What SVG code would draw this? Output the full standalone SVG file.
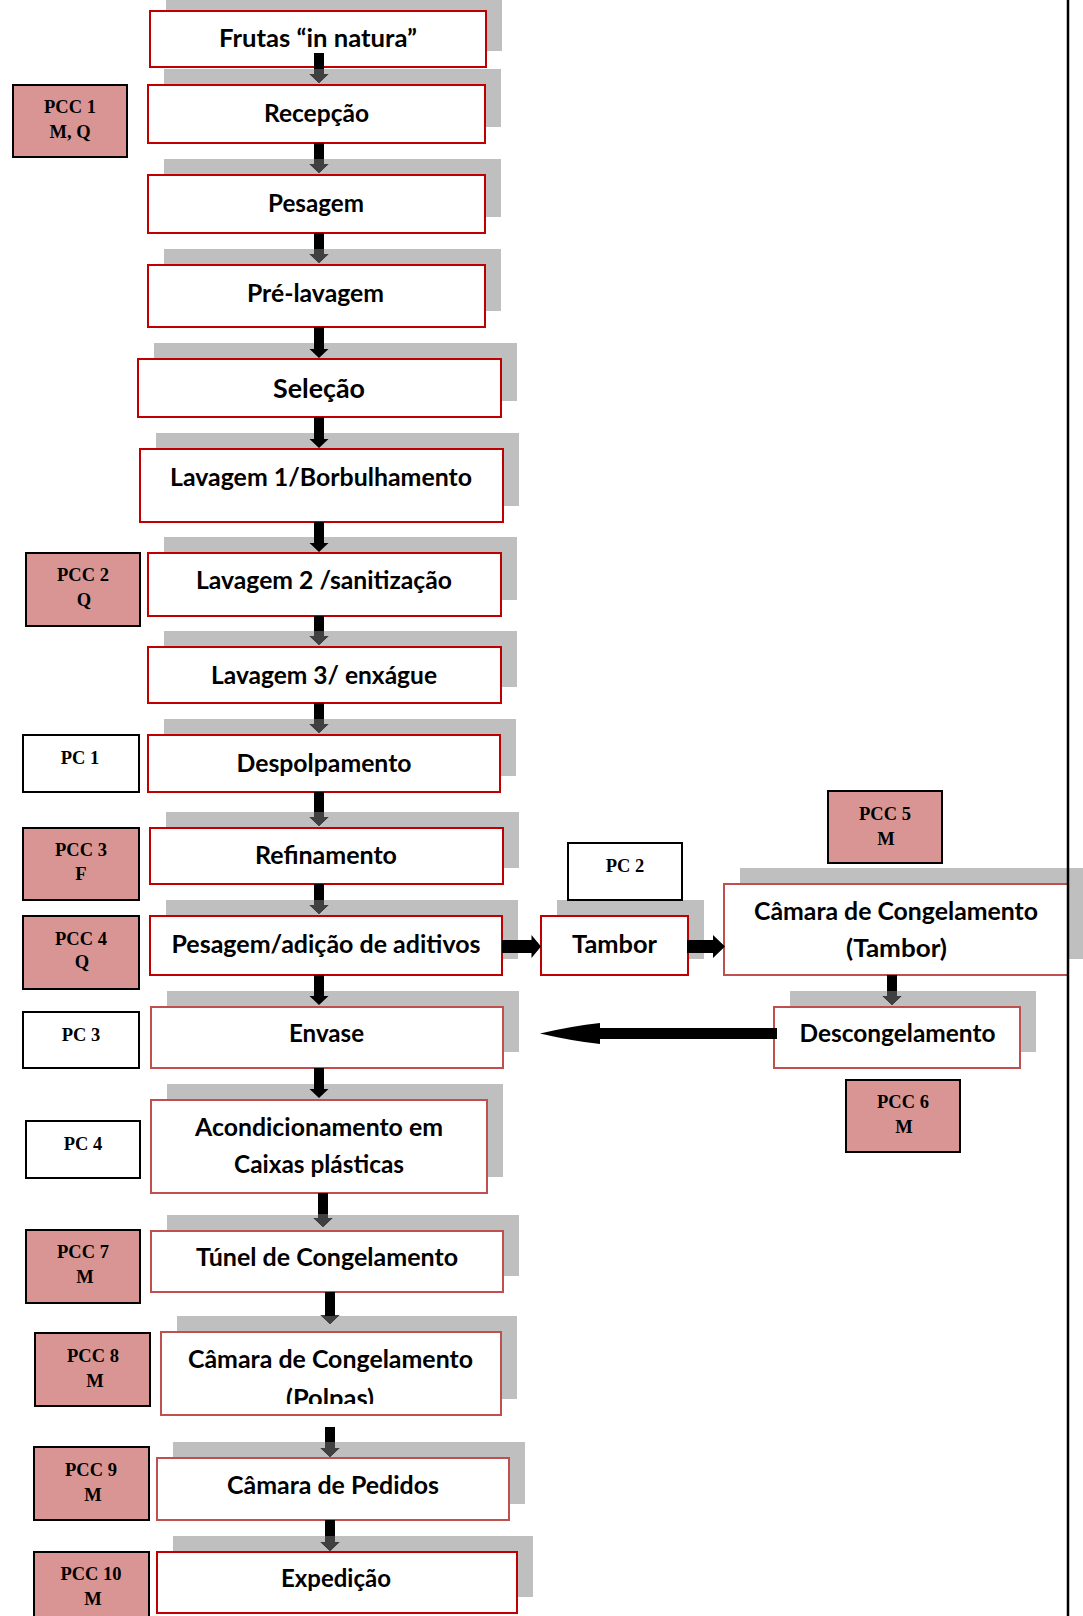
<svg xmlns="http://www.w3.org/2000/svg" width="1083" height="1616" viewBox="0 0 1083 1616">
<defs>
<style>
.sh{fill:#bfbfbf}
.bx{fill:#fff;stroke:#c00000;stroke-width:2}
.bl{fill:#fff;stroke:#c0504d;stroke-width:2}
.pcc{fill:#d99594;stroke:#000;stroke-width:2}
.pc{fill:#fff;stroke:#000;stroke-width:2}
.t{font-family:Lato,"Open Sans","DejaVu Sans",sans-serif;font-weight:bold;font-size:24px;fill:#000;text-anchor:middle}
.p{font-family:"Liberation Serif","Times New Roman",serif;font-weight:bold;font-size:18.5px;fill:#000;text-anchor:middle}
.a{fill:#000}
.g{fill:#404040}
</style>
<clipPath id="clipPolpas"><rect x="161" y="1332" width="340" height="72"/></clipPath>
</defs>
<rect width="1083" height="1616" fill="#fff"/>

<!-- main process nodes -->
<g id="n-frutas"><rect class="sh" x="166" y="-5" width="336" height="56"/><rect class="bx" x="150" y="11" width="336" height="56"/><text class="t" x="318" y="47" textLength="198" lengthAdjust="spacingAndGlyphs">Frutas “in natura”</text></g>
<g id="n-recepcao"><rect class="sh" x="164" y="69" width="337" height="58"/><rect class="bx" x="148" y="85" width="337" height="58"/><text class="t" x="316.5" y="121.5" textLength="105" lengthAdjust="spacingAndGlyphs">Recepção</text></g>
<g id="n-pesagem"><rect class="sh" x="164" y="159" width="337" height="58"/><rect class="bx" x="148" y="175" width="337" height="58"/><text class="t" x="316" y="211.5" textLength="96" lengthAdjust="spacingAndGlyphs">Pesagem</text></g>
<g id="n-prelavagem"><rect class="sh" x="164" y="249" width="337" height="62"/><rect class="bx" x="148" y="265" width="337" height="62"/><text class="t" x="315.5" y="301.5" textLength="137" lengthAdjust="spacingAndGlyphs">Pré-lavagem</text></g>
<g id="n-selecao"><rect class="sh" x="154" y="343" width="363" height="58"/><rect class="bx" x="138" y="359" width="363" height="58"/><text class="t" x="319" y="397.5" style="font-size:26px" textLength="92" lengthAdjust="spacingAndGlyphs">Seleção</text></g>
<g id="n-lavagem1"><rect class="sh" x="156" y="433" width="363" height="73"/><rect class="bx" x="140" y="449" width="363" height="73"/><text class="t" x="321" y="486" textLength="302" lengthAdjust="spacingAndGlyphs">Lavagem 1/Borbulhamento</text></g>
<g id="n-lavagem2"><rect class="sh" x="164" y="537" width="353" height="63"/><rect class="bx" x="148" y="553" width="353" height="63"/><text class="t" x="324" y="589" textLength="256" lengthAdjust="spacingAndGlyphs">Lavagem 2 /sanitização</text></g>
<g id="n-lavagem3"><rect class="sh" x="164" y="631" width="353" height="56"/><rect class="bx" x="148" y="647" width="353" height="56"/><text class="t" x="324" y="684" textLength="226" lengthAdjust="spacingAndGlyphs">Lavagem 3/ enxágue</text></g>
<g id="n-despolpamento"><rect class="sh" x="164" y="719" width="352" height="57"/><rect class="bx" x="148" y="735" width="352" height="57"/><text class="t" x="324" y="771.5" textLength="175" lengthAdjust="spacingAndGlyphs">Despolpamento</text></g>
<g id="n-refinamento"><rect class="sh" x="166" y="812" width="353" height="56"/><rect class="bx" x="150" y="828" width="353" height="56"/><text class="t" x="326" y="864" textLength="142" lengthAdjust="spacingAndGlyphs">Refinamento</text></g>
<g id="n-aditivos"><rect class="sh" x="166" y="900" width="352" height="59"/><rect class="bx" x="150" y="916" width="352" height="59"/><text class="t" x="326" y="952.5" textLength="309" lengthAdjust="spacingAndGlyphs">Pesagem/adição de aditivos</text></g>
<g id="n-tambor"><rect class="sh" x="557" y="900" width="147" height="59"/><rect class="bx" x="541" y="916" width="147" height="59"/><text class="t" x="614.5" y="952.5" textLength="85" lengthAdjust="spacingAndGlyphs">Tambor</text></g>
<g id="n-camara-tambor"><rect class="sh" x="740" y="868" width="344" height="91"/><rect class="bl" x="724" y="884" width="344" height="91"/><text class="t" x="896" y="920" textLength="284" lengthAdjust="spacingAndGlyphs">Câmara de Congelamento</text><text class="t" x="896.5" y="956.5" textLength="101" lengthAdjust="spacingAndGlyphs">(Tambor)</text></g>
<g id="n-descongelamento"><rect class="sh" x="790" y="991" width="246" height="61"/><rect class="bl" x="774" y="1007" width="246" height="61"/><text class="t" x="897.5" y="1041.5" textLength="196" lengthAdjust="spacingAndGlyphs">Descongelamento</text></g>
<g id="n-envase"><rect class="sh" x="167" y="991" width="352" height="61"/><rect class="bl" x="151" y="1007" width="352" height="61"/><text class="t" x="326.5" y="1042" textLength="75" lengthAdjust="spacingAndGlyphs">Envase</text></g>
<g id="n-acondicionamento"><rect class="sh" x="167" y="1084" width="336" height="93"/><rect class="bl" x="151" y="1100" width="336" height="93"/><text class="t" x="319" y="1135.5" textLength="248" lengthAdjust="spacingAndGlyphs">Acondicionamento em</text><text class="t" x="319" y="1173" textLength="170" lengthAdjust="spacingAndGlyphs">Caixas plásticas</text></g>
<g id="n-tunel"><rect class="sh" x="167" y="1215" width="352" height="61"/><rect class="bl" x="151" y="1231" width="352" height="61"/><text class="t" x="327" y="1266" textLength="262" lengthAdjust="spacingAndGlyphs">Túnel de Congelamento</text></g>
<g id="n-camara-polpas"><rect class="sh" x="177" y="1316" width="340" height="83"/><rect class="bl" x="161" y="1332" width="340" height="83"/><text class="t" x="330.5" y="1368" textLength="285" lengthAdjust="spacingAndGlyphs">Câmara de Congelamento</text><g clip-path="url(#clipPolpas)"><text class="t" x="330" y="1407" textLength="88" lengthAdjust="spacingAndGlyphs">(Polpas)</text></g></g>
<g id="n-pedidos"><rect class="sh" x="173" y="1442" width="352" height="62"/><rect class="bl" x="157" y="1458" width="352" height="62"/><text class="t" x="333" y="1494" textLength="212" lengthAdjust="spacingAndGlyphs">Câmara de Pedidos</text></g>
<g id="n-expedicao"><rect class="sh" x="173" y="1536" width="360" height="61"/><rect class="bx" x="157" y="1552" width="360" height="61"/><text class="t" x="336" y="1586.5" textLength="110" lengthAdjust="spacingAndGlyphs">Expedição</text></g>

<!-- control point labels -->
<g id="pcc1"><rect class="pcc" x="13" y="85" width="114" height="72"/><text class="p" x="70" y="113">PCC 1</text><text class="p" x="70" y="138">M, Q</text></g>
<g id="pcc2"><rect class="pcc" x="26" y="553" width="114" height="73"/><text class="p" x="83" y="581">PCC 2</text><text class="p" x="84" y="606">Q</text></g>
<g id="pc1"><rect class="pc" x="23" y="735" width="116" height="57"/><text class="p" x="80" y="764">PC 1</text></g>
<g id="pcc3"><rect class="pcc" x="23" y="828" width="116" height="72"/><text class="p" x="81" y="856">PCC 3</text><text class="p" x="81" y="880">F</text></g>
<g id="pcc4"><rect class="pcc" x="23" y="916" width="116" height="73"/><text class="p" x="81" y="945">PCC 4</text><text class="p" x="82" y="968">Q</text></g>
<g id="pcc5"><rect class="pcc" x="828" y="791" width="114" height="72"/><text class="p" x="885" y="820">PCC 5</text><text class="p" x="886" y="845">M</text></g>
<g id="pc2"><rect class="pc" x="568" y="843" width="114" height="57"/><text class="p" x="625" y="872">PC 2</text></g>
<g id="pcc6"><rect class="pcc" x="846" y="1080" width="114" height="72"/><text class="p" x="903" y="1108">PCC 6</text><text class="p" x="904" y="1133">M</text></g>
<g id="pc3"><rect class="pc" x="23" y="1012" width="116" height="56"/><text class="p" x="81" y="1041">PC 3</text></g>
<g id="pc4"><rect class="pc" x="26" y="1121" width="114" height="57"/><text class="p" x="83" y="1150">PC 4</text></g>
<g id="pcc7"><rect class="pcc" x="26" y="1230" width="114" height="73"/><text class="p" x="83" y="1258">PCC 7</text><text class="p" x="85" y="1283">M</text></g>
<g id="pcc8"><rect class="pcc" x="35" y="1333" width="115" height="73"/><text class="p" x="93" y="1362">PCC 8</text><text class="p" x="95" y="1387">M</text></g>
<g id="pcc9"><rect class="pcc" x="34" y="1447" width="115" height="73"/><text class="p" x="91" y="1476">PCC 9</text><text class="p" x="93" y="1501">M</text></g>
<g id="pcc10"><rect class="pcc" x="34" y="1552" width="115" height="80"/><text class="p" x="91" y="1580">PCC 10</text><text class="p" x="93" y="1605">M</text></g>

<!-- connectors -->
<g id="connectors">
<path class="a" d="M314,53H324V74H328.5L319,83L309.5,74H314Z"/><path class="g" d="M314,69H324V74H328.5L319,83L309.5,74H314Z"/>
<path class="a" d="M314,143H324V164H328.5L319,173L309.5,164H314Z"/><path class="g" d="M314,159H324V164H328.5L319,173L309.5,164H314Z"/>
<path class="a" d="M314,233H324V254H328.5L319,263L309.5,254H314Z"/><path class="g" d="M314,249H324V254H328.5L319,263L309.5,254H314Z"/>
<path class="a" d="M314,327H324V349H328.5L319,358L309.5,349H314Z"/>
<path class="a" d="M314,417H324V439H328.5L319,448L309.5,439H314Z"/>
<path class="a" d="M314,522H324V543H328.5L319,552L309.5,543H314Z"/>
<path class="a" d="M314,616H324V636H328.5L319,645L309.5,636H314Z"/><path class="g" d="M314,631H324V636H328.5L319,645L309.5,636H314Z"/>
<path class="a" d="M314,703H324V724H328.5L319,733L309.5,724H314Z"/><path class="g" d="M314,719H324V724H328.5L319,733L309.5,724H314Z"/>
<path class="a" d="M314,792H324V817H328.5L319,826L309.5,817H314Z"/><path class="g" d="M314,812H324V817H328.5L319,826L309.5,817H314Z"/>
<path class="a" d="M314,884H324V905H328.5L319,914L309.5,905H314Z"/><path class="g" d="M314,900H324V905H328.5L319,914L309.5,905H314Z"/>
<path class="a" d="M314,975H324V996H328.5L319,1005L309.5,996H314Z"/>
<path class="a" d="M314,1068H324V1089H328.5L319,1098L309.5,1089H314Z"/>
<path class="a" d="M318,1193H328V1218H332.5L323,1227L313.5,1218H318Z"/><path class="g" d="M318,1214H328V1218H332.5L323,1227L313.5,1218H318Z"/>
<path class="a" d="M325,1292H335V1315H339.5L330,1324L320.5,1315H325Z"/><path class="g" d="M325,1316H335V1315H339.5L330,1324L320.5,1315H325Z"/>
<path class="a" d="M325,1427H335V1448H339.5L330,1457L320.5,1448H325Z"/><path class="g" d="M325,1442H335V1448H339.5L330,1457L320.5,1448H325Z"/>
<path class="a" d="M325,1520H335V1542H339.5L330,1551L320.5,1542H325Z"/><path class="g" d="M325,1536H335V1542H339.5L330,1551L320.5,1542H325Z"/>
<path class="a" d="M887,975H897V996H901.5L892,1005L882.5,996H887Z"/><path class="g" d="M887,991H897V996H901.5L892,1005L882.5,996H887Z"/>
<path class="a" d="M502,940H531.5V935L541,946.5L531.5,958V953H502Z"/>
<path class="a" d="M687,940H713V935L725,946.5L713,958V953H687Z"/>
<path class="a" d="M540,1033.5Q572,1026 600,1023V1028H777V1039H600V1044Q572,1041 540,1033.5Z"/>
</g>

<line x1="1068" y1="0" x2="1068" y2="1616" stroke="#000" stroke-width="2.5"/>
</svg>
